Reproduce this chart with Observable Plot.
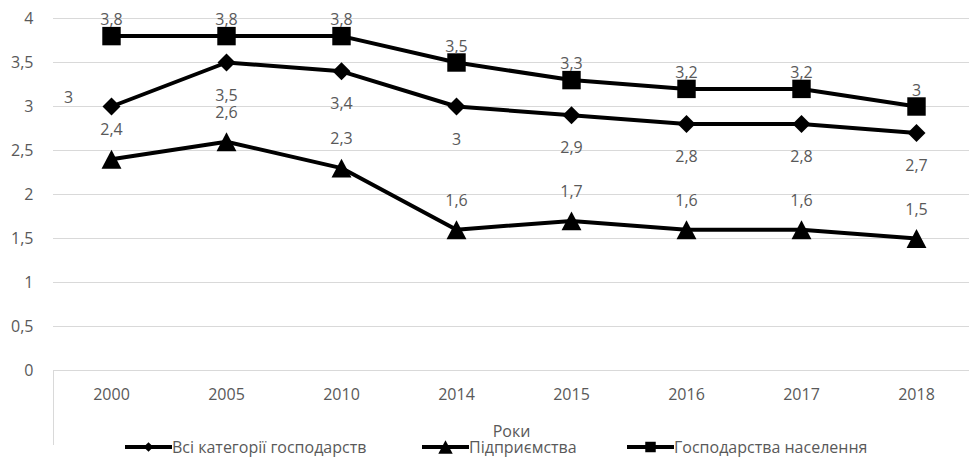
<!DOCTYPE html>
<html><head><meta charset="utf-8">
<script src="https://cdn.jsdelivr.net/npm/d3@7"></script>
<script src="https://cdn.jsdelivr.net/npm/@observablehq/plot@0.6"></script>
<style>
body{margin:0;background:#fff;}
#wrap{position:relative;width:969px;height:457px;font-family:"Open Sans",sans-serif;color:#595959;}
#legend{position:absolute;top:437px;left:0;width:969px;height:20px;font-size:16px;}
.item{position:absolute;top:0;display:flex;align-items:center;height:20px;white-space:nowrap;}
.item svg{display:block;}
</style></head><body><div id="wrap"><div id="legend"></div></div>
<script>
const years = ["2000","2005","2010","2014","2015","2016","2017","2018"];
const allCats = [3, 3.5, 3.4, 3, 2.9, 2.8, 2.8, 2.7];
const enterprises = [2.4, 2.6, 2.3, 1.6, 1.7, 1.6, 1.6, 1.5];
const households = [3.8, 3.8, 3.8, 3.5, 3.3, 3.2, 3.2, 3];
const seriesNames = ["Всі категорії господарств", "Підприємства", "Господарства населення"];
const yTicks = [0, 0.5, 1, 1.5, 2, 2.5, 3, 3.5, 4];
const xTitle = "Роки";

const fmt = d => String(d).replace(".", ",");
const rowsOf = (vals, name) => vals.map((v, i) => ({year: years[i], value: v, series: name, i}));
const rAll = rowsOf(allCats, seriesNames[0]);
const rEnt = rowsOf(enterprises, seriesNames[1]);
const rHh = rowsOf(households, seriesNames[2]);

// triangle centred on its bounding box (like Excel)
const tri = {draw(ctx, size){ const s = Math.sqrt(size); const w = s*0.76, h = s*0.72;
  ctx.moveTo(0,-h); ctx.lineTo(w,h); ctx.lineTo(-w,h); ctx.closePath(); }};

const gray = "#595959";
const lineOpts = {x:"year", y:"value", stroke:"black", strokeWidth:4};
const txt = {x:"year", y:"value", text: d => fmt(d.value), fill: gray, fontSize:16};

const plot = Plot.plot({
  width: 969, height: 457,
  marginLeft: 53, marginRight: 0, marginTop: 18, marginBottom: 87,
  style: {fontFamily: '"Open Sans", sans-serif', fontSize: "16px", color: gray, background: "white"},
  x: {type: "point", domain: years, range: [111, 916], padding: 0},
  y: {domain: [0, 4]},
  marks: [
    Plot.ruleY(yTicks, {stroke: "#d9d9d9", strokeWidth: 1}),
    Plot.axisY({ticks: yTicks, tickFormat: fmt, tickSize: 0, tickPadding: 20, label: null, fill: gray, fontSize: 16}),
    Plot.axisX({tickSize: 0, tickPadding: 18, label: xTitle, labelAnchor: "center", labelOffset: 66, labelArrow: "none", fill: gray, fontSize: 16}),
    Plot.line(rAll, lineOpts),
    Plot.line(rEnt, lineOpts),
    Plot.line(rHh, lineOpts),
    Plot.dot(rAll, {x:"year", y:"value", symbol:"diamond2", r:8.1, fill:"black", stroke:"none"}),
    Plot.dot(rEnt, {x:"year", y:"value", symbol:tri, r:7.4, fill:"black", stroke:"none"}),
    Plot.dot(rHh, {x:"year", y:"value", symbol:"square", r:10.4, fill:"black", stroke:"none"}),
    Plot.text(rHh, {...txt, dy: -16}),
    Plot.text(rEnt, {...txt, dy: -29}),
    Plot.text(rAll.filter(d => d.i > 0), {...txt, dy: 33}),
    Plot.text(rAll.filter(d => d.i === 0), {...txt, dx: -43, dy: -9})
  ]
});

document.getElementById("wrap").prepend(plot);
const ys = plot.scale("y");
d3.select(plot).append("line")
  .attr("x1", 53.5).attr("x2", 53.5)
  .attr("y1", ys.apply(0)).attr("y2", 445)
  .attr("stroke", "#d9d9d9");
d3.select(plot).style("position","absolute").style("left","0").style("top","0");

// legend
const legendLeft = [125, 422, 627];
const legendSym = [d3.symbolDiamond2, tri, d3.symbolSquare];
const legendSize = [60, 90, 110];
const leg = d3.select("#legend");
seriesNames.forEach((name, k) => {
  const it = leg.append("div").attr("class", "item").style("left", legendLeft[k] + "px");
  const sv = it.append("svg").attr("width", 47).attr("height", 20);
  sv.append("line").attr("x1", 0).attr("x2", 47).attr("y1", 10).attr("y2", 10)
    .attr("stroke", "black").attr("stroke-width", 4);
  sv.append("path").attr("transform", "translate(23.5,10)")
    .attr("d", d3.symbol(legendSym[k], legendSize[k])()).attr("fill", "black");
  it.append("span").text(name);
});
</script></body></html>
